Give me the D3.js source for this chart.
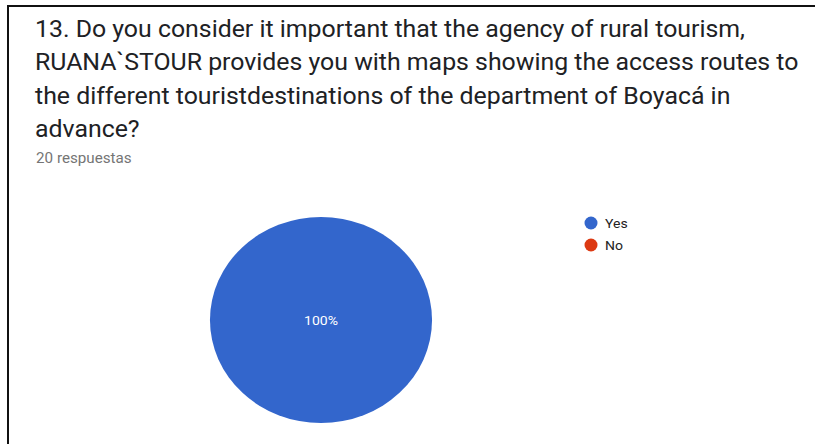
<!DOCTYPE html>
<meta charset="utf-8">
<title>Question 13</title>
<style>
  body { margin: 0; background: #fff; }
  text { font-family: Roboto, Arial, sans-serif; }
</style>
<body>
<script src="https://cdn.jsdelivr.net/npm/d3@7"></script>
<script>
// answers (20 responses)
var categories = ['Yes', 'No'];
var counts = [20, 0];
var colors = ['#3366cc', '#dc3912'];

var titleLines = [
  '13. Do you consider it important that the agency of rural tourism,',
  'RUANA`STOUR provides you with maps showing the access routes to',
  'the different touristdestinations of the department of Boyacá in',
  'advance?'
];
var subtitle = '20 respuestas';

var width = 815, height = 444;
var stretch = 1.078; // the screenshot is a bit wider than tall
var textStretch = 1.063;

var svg = d3.select('body').append('svg')
    .attr('width', width)
    .attr('height', height);

// card frame, only top and left edges show
svg.append('path')
    .attr('d', 'M8,' + height + 'V6H' + width)
    .style('fill', 'none')
    .style('stroke', '#111')
    .style('stroke-width', 2);

// title
var head = svg.append('g')
    .attr('transform', 'translate(35,0) scale(' + textStretch + ',1)');

head.selectAll('.title')
    .data(titleLines)
  .enter().append('text')
    .attr('class', 'title')
    .attr('x', 0)
    .attr('y', function(d, i) { return 37 + i * 33.3; })
    .style('font-size', '23.4px')
    .style('fill', '#202124')
    .text(function(d) { return d; });

head.append('text')
    .attr('x', 1)
    .attr('y', 163)
    .style('font-size', '14.3px')
    .style('fill', '#757575')
    .text(subtitle);

// pie
var pie = d3.pie().sort(null);
var arcs = pie(counts);
var radius = 103;
var arc = d3.arc().innerRadius(0).outerRadius(radius);

var g = svg.append('g')
    .attr('transform', 'translate(321,320) scale(' + stretch + ',1)');

g.selectAll('path')
    .data(arcs)
  .enter().append('path')
    .attr('d', arc)
    .style('fill', function(d, i) { return colors[i]; });

var total = d3.sum(counts);
g.selectAll('.lbl')
    .data(arcs.filter(function(d) { return d.value > 0; }))
  .enter().append('text')
    .attr('class', 'lbl')
    .attr('x', 0)
    .attr('y', 5)
    .attr('text-anchor', 'middle')
    .style('font-size', '13px')
    .style('fill', '#fff')
    .text(function(d) { return Math.round(d.value / total * 100) + '%'; });

// legend
var legend = svg.selectAll('.legend')
    .data(categories)
  .enter().append('g')
    .attr('class', 'legend')
    .attr('transform', function(d, i) { return 'translate(591,' + (223 + i * 22) + ')'; });

legend.append('circle')
    .attr('r', 6.5)
    .style('fill', function(d, i) { return colors[i]; });

legend.append('text')
    .attr('x', 13)
    .attr('y', 5)
    .attr('transform', 'scale(' + stretch + ',1)')
    .style('font-size', '13px')
    .style('fill', '#222')
    .text(function(d) { return d; });
</script>
</body>
